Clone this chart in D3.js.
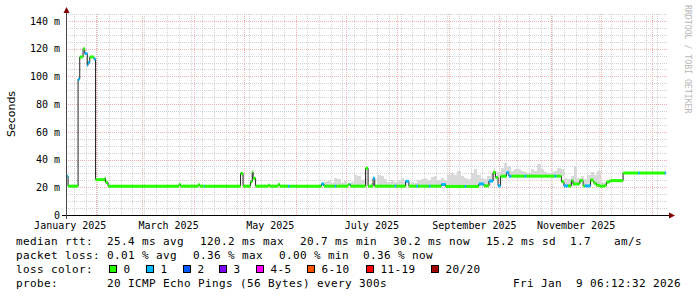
<!DOCTYPE html>
<html>
<head>
<meta charset="utf-8">
<script src="https://cdn.jsdelivr.net/npm/d3@7"></script>
<style>
  body { margin: 0; background: #fff; }
  svg text { font-family: "DejaVu Sans Mono", monospace; fill: #000; }
</style>
</head>
<body>
<script>
// graph period, 360 days up to the time stamp
var startTime = "2025-01-14 06:12:32",
    endTime = "2026-01-09 06:12:32";

// median rtt, one step per entry: start, value (ms), loss bucket
var medianTime = [
  "2025-01-14 06", "2025-01-15 12", "2025-01-21 12", "2025-01-22 12", "2025-01-24 12",
  "2025-01-25 12", "2025-01-27 00", "2025-01-27 12", "2025-01-28 12", "2025-01-31 00",
  "2025-02-01 00", "2025-02-06 12", "2025-02-07 00", "2025-02-08 12", "2025-03-23 00",
  "2025-03-24 00", "2025-04-03 12", "2025-04-04 12", "2025-04-07 00", "2025-04-07 12",
  "2025-04-29 00", "2025-04-30 12", "2025-05-05 00", "2025-05-06 00", "2025-05-06 12",
  "2025-05-08 00", "2025-05-15 12", "2025-05-16 12", "2025-05-21 12", "2025-05-22 12",
  "2025-05-27 12", "2025-05-28 12", "2025-06-16 12", "2025-06-18 00", "2025-06-24 12",
  "2025-06-25 12", "2025-07-02 12", "2025-07-03 12", "2025-07-04 00", "2025-07-13 00",
  "2025-07-14 12", "2025-07-17 12", "2025-07-18 12", "2025-07-30 12", "2025-07-31 12",
  "2025-08-06 00", "2025-08-08 00", "2025-08-12 12", "2025-08-13 12", "2025-08-20 00",
  "2025-08-21 00", "2025-08-27 12", "2025-08-30 00", "2025-09-10 12", "2025-09-11 12",
  "2025-09-19 00", "2025-09-22 00", "2025-09-25 00", "2025-09-27 12", "2025-09-29 00",
  "2025-09-30 12", "2025-10-02 00", "2025-10-05 12", "2025-10-07 00", "2025-10-08 12",
  "2025-10-16 12", "2025-10-17 12", "2025-11-03 12", "2025-11-04 12", "2025-11-07 12",
  "2025-11-09 00", "2025-11-11 12", "2025-11-13 12", "2025-11-14 12", "2025-11-18 12",
  "2025-11-20 12", "2025-11-21 12", "2025-11-25 00", "2025-11-26 12", "2025-11-27 00",
  "2025-11-28 12", "2025-11-30 12", "2025-12-03 12", "2025-12-04 12", "2025-12-06 12",
  "2025-12-14 12", "2025-12-23 12", "2025-12-24 12", "2026-01-08 12"
];
var medianMs = [
  28, 20.8, 98, 114, 120,
  116.5, 108, 110, 114, 112.5,
  25.5, 26.5, 23.5, 20.8, 22,
  20.8, 21.8, 20.8, 20.8, 20.8,
  30, 20.8, 24, 31, 26.5,
  20.8, 21.5, 20.8, 22, 20.8,
  20.8, 20.8, 22.4, 20.8, 20.8,
  20.8, 22, 22, 20.8, 33.7,
  20.8, 26.5, 20.8, 20.8, 20.8,
  24.3, 20.8, 20.8, 20.8, 20.8,
  20.8, 22, 20.6, 20.6, 20.6,
  22.4, 21, 24.5, 30.8, 27,
  21, 27.9, 30.5, 28, 28,
  28, 28, 28, 28, 24,
  21, 21, 24.8, 22.4, 24.8,
  21, 21, 25.3, 24.5, 22.9,
  21.4, 20.8, 21.4, 23.8, 24.8,
  30.3, 30.3, 30.3, 30.3
];
var medianLoss = [
  1, 0, 1, 0, 0,
  1, 1, 1, 0, 1,
  0, 0, 0, 0, 0,
  0, 0, 0, 1, 0,
  0, 0, 0, 0, 0,
  0, 0, 0, 0, 0,
  1, 0, 1, 0, 1,
  0, 0, 1, 0, 0,
  0, 1, 0, 1, 0,
  1, 0, 1, 0, 1,
  0, 1, 0, 1, 0,
  1, 0, 1, 0, 0,
  1, 0, 1, 1, 0,
  1, 0, 1, 0, 0,
  1, 0, 0, 0, 0,
  0, 1, 0, 0, 0,
  0, 0, 0, 0, 0,
  0, 1, 0, 1
];

// smoke (spread of the pings): top of smoke in ms, one value every 2 days
var smokeStart = "2025-06-14 00",
    smokeStepDays = 2;
var smokeTop = [
  21, 22, 24, 24.5, 23, 26.5, 26, 23, 24.5, 22,
  24, 28.5, 28, 25, 26, 24, 23, 25, 28.5, 28,
  26, 24, 25.5, 24, 25, 26.5, 24, 23.5, 24, 23,
  25.5, 26, 27, 25, 27.5, 28, 25, 27, 25, 29,
  30, 29, 32, 28, 27, 26, 30, 33, 29, 27,
  26, 28, 30, 32, 31, 34, 37.5, 35, 32, 33,
  33.5, 32, 31, 30.5, 33, 32, 36.5, 33, 31, 30.5,
  31, 32, 34, 33, 27, 26, 28, 35, 27, 28,
  26, 29, 31, 29, 31.5, 24, 23, 22.5, 22
];

// loss colour legend
var lossLabels = ["0", "1", "2", "3", "4-5", "6-10", "11-19", "20/20"];
var lossColors = ["#26ff00", "#00b8ff", "#0059ff", "#7e00ff", "#ff00ff", "#ff5500", "#ff0000", "#a10000"];

// axis ticks
var yTicks = [0, 20, 40, 60, 80, 100, 120, 140];
var labelMonths = ["2025-01", "2025-03", "2025-05", "2025-07", "2025-09", "2025-11"];

// legend texts
var rttStats = ["25.4 ms avg", "120.2 ms max", "20.7 ms min", "30.2 ms now", "15.2 ms sd", "1.7", "am/s"];
var lossStats = ["0.01 % avg", "0.36 % max", "0.00 % min", "0.36 % now"];
var probeText = "20 ICMP Echo Pings (56 Bytes) every 300s";
var stampText = "Fri Jan  9 06:12:32 2026";

var parseStep = d3.utcParse("%Y-%m-%d %H"),
    parseFull = d3.utcParse("%Y-%m-%d %H:%M:%S"),
    parseMonth = d3.utcParse("%Y-%m");

var t0 = parseFull(startTime), t1 = parseFull(endTime);

// set the ranges
var x = d3.scaleUtc().domain([t0, t1]).range([66, 666]);
var y = d3.scaleLinear().domain([0, 145]).range([215, 14]);

var px = function (v) { return Math.round(v) + 0.5; };

var svg = d3.select("body").append("svg")
    .attr("width", 697)
    .attr("height", 297);

// grid
var grid = svg.append("g").attr("stroke-dasharray", "1,1").attr("stroke-width", 1);
var minorY = d3.range(5, 146, 5).filter(function (v) { return v % 20 !== 0; });
grid.selectAll(".hmin").data(minorY).enter().append("line")
    .attr("x1", 66).attr("x2", 668)
    .attr("y1", function (d) { return px(y(d)); })
    .attr("y2", function (d) { return px(y(d)); })
    .attr("stroke", "#d2d2d2");
grid.selectAll(".vmin").data(x.ticks(d3.utcSunday)).enter().append("line")
    .attr("x1", function (d) { return px(x(d)); })
    .attr("x2", function (d) { return px(x(d)); })
    .attr("y1", 14).attr("y2", 215)
    .attr("stroke", "#d2d2d2");
grid.selectAll(".hmaj").data(yTicks.slice(1)).enter().append("line")
    .attr("x1", 66).attr("x2", 668)
    .attr("y1", function (d) { return px(y(d)); })
    .attr("y2", function (d) { return px(y(d)); })
    .attr("stroke", "#f0b0b0");
grid.selectAll(".vmaj").data(x.ticks(d3.utcMonth)).enter().append("line")
    .attr("x1", function (d) { return px(x(d)); })
    .attr("x2", function (d) { return px(x(d)); })
    .attr("y1", 14).attr("y2", 215)
    .attr("stroke", "#f0b0b0");

// median steps as objects
var steps = medianTime.map(function (t, i) {
    return {t: parseStep(t), v: medianMs[i], loss: medianLoss[i]};
});
steps.forEach(function (d, i) {
    d.t2 = i + 1 < steps.length ? steps[i + 1].t : t1;
});
var bisect = d3.bisector(function (d) { return d.t; }).right;
function medianAt(t) {
    var i = Math.max(0, bisect(steps, t) - 1);
    return steps[i].v;
}

// smoke
var s0 = parseStep(smokeStart);
svg.append("g").selectAll("rect").data(smokeTop).enter().append("rect")
    .each(function (d, i) {
        var ta = d3.utcDay.offset(s0, i * smokeStepDays),
            tb = d3.utcDay.offset(s0, (i + 1) * smokeStepDays),
            base = medianAt(ta);
        var top = Math.max(d, base);
        d3.select(this)
            .attr("x", Math.round(x(ta)))
            .attr("width", Math.max(1, Math.round(x(tb)) - Math.round(x(ta))))
            .attr("y", Math.round(y(top)))
            .attr("height", Math.round(y(base)) - Math.round(y(top)));
    })
    .attr("fill", "#d9d9d9");

// thin dark median line
var pts = steps.map(function (d) { return [x(d.t), y(d.v)]; });
pts.push([x(t1), y(steps[steps.length - 1].v)]);
svg.append("path")
    .attr("d", d3.line().curve(d3.curveStepAfter)(pts))
    .attr("fill", "none")
    .attr("stroke", "#202020")
    .attr("stroke-width", 1);

// median coloured by loss
svg.append("g").selectAll("line").data(steps).enter().append("line")
    .attr("x1", function (d) { return x(d.t); })
    .attr("x2", function (d) { return x(d.t2); })
    .attr("y1", function (d) { return y(d.v); })
    .attr("y2", function (d) { return y(d.v); })
    .attr("stroke", function (d) { return lossColors[d.loss]; })
    .attr("stroke-width", 3);

// Y axis labels
var yAxis = d3.axisLeft(y).tickValues(yTicks).tickSize(0).tickPadding(6)
    .tickFormat(function (d) { return d === 0 ? "0" : d + " m"; });
var gy = svg.append("g").attr("transform", "translate(66,0)").call(yAxis);
gy.select(".domain").remove();
gy.selectAll("text").attr("font-family", "DejaVu Sans Mono").attr("font-size", 10).attr("fill", "#000");

// X axis labels at the middle of each month
var mids = labelMonths.map(function (m) {
    var a = parseMonth(m), b = d3.utcMonth.offset(a, 1);
    return new Date((+a + +b) / 2);
});
var xAxis = d3.axisBottom(x).tickValues(mids).tickSize(0).tickPadding(7)
    .tickFormat(d3.utcFormat("%B %Y"));
var gx = svg.append("g").attr("transform", "translate(0,215)").call(xAxis);
gx.select(".domain").remove();
gx.selectAll("text").attr("font-family", "DejaVu Sans Mono").attr("font-size", 10).attr("fill", "#000");

// axis lines and arrows
svg.append("line").attr("x1", 62).attr("x2", 670).attr("y1", 215.5).attr("y2", 215.5)
    .attr("stroke", "#000");
svg.append("line").attr("x1", 66.5).attr("x2", 66.5).attr("y1", 219).attr("y2", 12)
    .attr("stroke", "#444");
svg.append("path").attr("d", "M63.5,13 L66.5,7 L69.5,13 Z").attr("fill", "#7f0000");
svg.append("path").attr("d", "M669,212.5 L675,215.5 L669,218.5 Z").attr("fill", "#7f0000");

// titles
svg.append("text")
    .attr("transform", "translate(15,114) rotate(-90)")
    .attr("text-anchor", "middle")
    .style("font-family", "'DejaVu Sans', sans-serif")
    .attr("font-size", 11)
    .text("Seconds");
svg.append("text")
    .attr("transform", "translate(684.5,5) rotate(90)")
    .attr("font-size", 8.2)
    .style("fill", "#b8b8b8")
    .text("RRDTOOL / TOBI OETIKER");

// legend
var leg = svg.append("g").attr("font-size", 11).attr("letter-spacing", 0.38);
var rowY = [245.3, 259.1, 272.9, 286.7];
var rttX = [107, 200, 300, 393, 486, 570, 614];
var lossX = [107, 193, 279, 363];

leg.append("text").attr("x", 16).attr("y", rowY[0]).text("median rtt:");
leg.selectAll(".rtt").data(rttStats).enter().append("text")
    .attr("x", function (d, i) { return rttX[i]; }).attr("y", rowY[0]).text(function (d) { return d; });

leg.append("text").attr("x", 16).attr("y", rowY[1]).text("packet loss:");
leg.selectAll(".ls").data(lossStats).enter().append("text")
    .attr("x", function (d, i) { return lossX[i]; }).attr("y", rowY[1]).text(function (d) { return d; });

leg.append("text").attr("x", 16).attr("y", rowY[2]).text("loss color:");
var boxX = [109, 146, 183, 219, 256, 307, 366, 431];
var lc = leg.selectAll(".lc").data(lossLabels).enter().append("g");
lc.append("rect")
    .attr("x", function (d, i) { return boxX[i] + 0.5; })
    .attr("y", 265.5)
    .attr("width", 7).attr("height", 7)
    .attr("fill", function (d, i) { return lossColors[i]; })
    .attr("stroke", "#000");
lc.append("text")
    .attr("x", function (d, i) { return boxX[i] + 14.5; })
    .attr("y", rowY[2])
    .text(function (d) { return d; });

leg.append("text").attr("x", 16).attr("y", rowY[3]).text("probe:");
leg.append("text").attr("x", 107).attr("y", rowY[3]).text(probeText);
leg.append("text").attr("x", 513).attr("y", rowY[3]).style("white-space", "pre").text(stampText);
</script>
</body>
</html>
